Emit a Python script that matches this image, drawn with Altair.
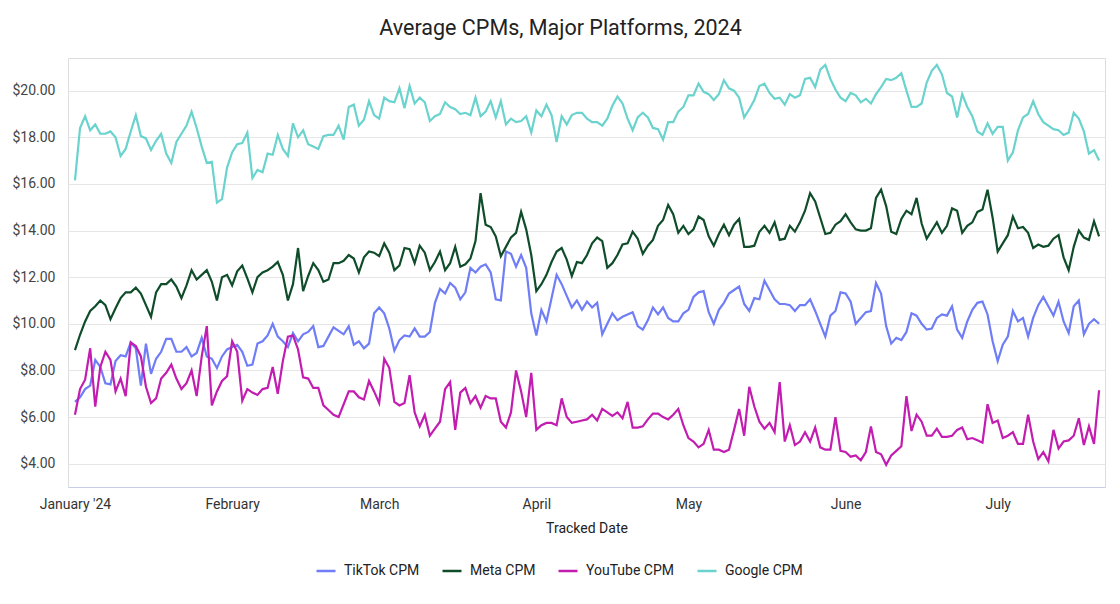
import altair as alt
import pandas as pd

start = "2024-01-01"
n_days = 203
dates = [d.strftime("%Y-%m-%d") for d in pd.date_range(start, periods=n_days, freq="D")]

series_names = ["TikTok CPM", "Meta CPM", "YouTube CPM", "Google CPM"]
series_colors = ["#6f7df7", "#0f4d2a", "#c21cb0", "#6ad3ce"]

tiktok = [
    6.65, 6.85, 7.2, 7.35, 8.45, 8.15, 7.45, 7.4, 8.4, 8.65,
    8.6, 9.2, 8.95, 7.35, 9.15, 7.85, 8.5, 8.8, 9.35, 9.35,
    8.8, 8.8, 9.0, 8.6, 8.75, 9.4, 8.6, 8.5, 8.1, 8.6,
    8.9, 9.0, 9.1, 8.8, 8.2, 8.25, 9.15, 9.25, 9.5, 10.0,
    9.45, 9.25, 9.0, 9.6, 9.25, 9.55, 9.65, 9.9, 9.0, 9.05,
    9.45, 9.85, 9.7, 9.55, 9.9, 9.1, 9.25, 8.95, 9.15, 10.45,
    10.7, 10.45, 9.8, 8.85, 9.3, 9.5, 9.45, 9.8, 9.45, 9.45,
    9.65, 10.9, 11.5, 11.3, 11.75, 11.55, 11.05, 11.35, 12.4, 12.2,
    12.45, 12.55, 12.2, 11.05, 11.0, 13.1, 13.0, 12.45, 12.95, 12.4,
    10.45, 9.5, 10.6, 10.1, 11.1, 12.1, 11.7, 11.2, 10.7, 11.0,
    10.6, 10.95, 10.7, 10.9, 9.55, 10.0, 10.45, 10.15, 10.3, 10.4,
    10.5, 9.9, 9.75, 10.15, 10.7, 10.4, 10.7, 10.25, 10.1, 10.1,
    10.45, 10.6, 11.15, 11.35, 11.4, 10.5, 10.0, 10.6, 10.9, 11.3,
    11.45, 11.6, 10.85, 10.55, 11.1, 11.05, 11.85, 11.45, 11.05, 10.85,
    10.85, 10.8, 10.55, 10.8, 10.8, 11.05, 10.55, 10.0, 9.45, 10.35,
    10.55, 11.35, 11.3, 10.95, 10.0, 10.25, 10.5, 10.55, 11.75, 11.3,
    9.9, 9.15, 9.4, 9.3, 9.65, 10.45, 10.35, 10.0, 9.75, 9.8,
    10.25, 10.4, 10.35, 10.75, 9.75, 9.4, 10.1, 10.6, 10.9, 10.95,
    10.4, 9.25, 8.4, 9.1, 9.45, 10.55, 10.1, 10.25, 9.45, 10.25,
    10.8, 11.15, 10.75, 10.35, 10.95, 10.1, 9.6, 10.75, 11.0, 9.55,
    10.0, 10.2, 10.0,
]

meta = [
    8.87, 9.53, 10.1, 10.55, 10.75, 11.0, 10.8, 10.2, 10.67, 11.1,
    11.35, 11.35, 11.55, 11.3, 10.8, 10.3, 11.35, 11.7, 11.7, 11.9,
    11.6, 11.1, 11.65, 12.3, 11.9, 12.1, 12.3, 11.8, 11.0, 12.0,
    12.1, 11.65, 12.25, 12.5, 11.95, 11.35, 12.0, 12.2, 12.3, 12.45,
    12.65, 12.1, 11.0, 11.7, 13.25, 11.4, 12.05, 12.6, 12.3, 11.8,
    11.9, 12.6, 12.6, 12.7, 12.95, 12.8, 12.2, 12.85, 13.1, 13.05,
    12.9, 13.45, 13.05, 12.3, 12.5, 13.25, 13.2, 12.6, 13.35, 13.05,
    12.3, 12.65, 13.1, 12.3, 12.6, 13.3, 12.45, 12.55, 12.8, 13.55,
    15.6, 14.25, 14.15, 13.75, 12.9, 13.3, 13.7, 13.9, 14.8, 14.05,
    12.95, 11.4, 11.7, 12.1, 12.65, 13.1, 13.25, 12.75, 12.05, 12.65,
    12.6, 12.95, 13.45, 13.7, 13.55, 12.4, 12.6, 12.95, 13.4, 13.45,
    13.95, 13.65, 13.0, 13.35, 13.6, 14.2, 14.45, 15.1, 14.7, 13.9,
    14.2, 13.85, 14.05, 14.6, 14.45, 13.75, 13.35, 13.85, 14.25, 13.8,
    14.25, 14.5, 13.3, 13.3, 13.35, 13.95, 14.2, 13.9, 14.35, 13.6,
    13.65, 14.2, 13.95, 14.35, 14.85, 15.6, 15.25, 14.55, 13.85, 13.9,
    14.25, 14.4, 14.7, 14.35, 14.05, 14.0, 14.0, 14.1, 15.4, 15.75,
    15.05, 13.95, 13.85, 14.5, 14.85, 14.7, 15.4, 14.3, 13.65, 14.0,
    14.35, 13.9, 14.2, 14.95, 14.85, 13.9, 14.2, 14.35, 14.8, 14.9,
    15.75, 14.55, 13.1, 13.45, 13.8, 14.6, 14.1, 14.15, 13.9, 13.25,
    13.4, 13.3, 13.35, 13.65, 13.8, 12.85, 12.3, 13.3, 14.0, 13.7,
    13.6, 14.4, 13.75,
]

youtube = [
    6.1, 7.2, 7.6, 8.95, 6.45, 8.15, 8.8, 8.45, 7.1, 7.65,
    6.9, 9.2, 9.05, 8.6, 7.3, 6.6, 6.8, 7.65, 7.9, 8.25,
    7.65, 7.2, 7.45, 8.0, 6.9, 8.6, 9.9, 6.5, 7.1, 7.55,
    7.75, 9.25, 8.8, 6.7, 7.2, 7.05, 6.95, 7.2, 7.25, 8.15,
    7.0, 8.4, 9.45, 9.5, 8.9, 7.7, 7.65, 7.25, 7.25, 6.5,
    6.3, 6.1, 6.0, 6.55, 7.1, 7.1, 6.85, 6.75, 7.55, 7.1,
    6.6, 8.5, 8.1, 6.65, 6.5, 6.6, 7.8, 6.2, 5.6, 6.1,
    5.2, 5.5, 5.8, 7.2, 7.5, 5.45, 7.05, 7.25, 6.6, 6.9,
    6.4, 6.9, 6.8, 6.8, 5.8, 5.55, 6.2, 8.0, 7.1, 6.0,
    7.9, 5.45, 5.65, 5.75, 5.75, 5.65, 6.8, 6.0, 5.75, 5.8,
    5.85, 5.9, 6.1, 5.85, 6.35, 6.2, 6.05, 6.2, 5.95, 6.65,
    5.55, 5.55, 5.6, 5.9, 6.15, 6.15, 6.0, 5.9, 6.1, 6.35,
    5.65, 5.1, 4.95, 4.7, 4.85, 5.45, 4.6, 4.6, 4.5, 4.6,
    5.45, 6.35, 5.2, 7.3, 6.45, 5.8, 5.5, 5.75, 5.35, 7.5,
    4.95, 5.65, 4.8, 4.95, 5.35, 4.95, 5.55, 4.7, 4.6, 4.6,
    6.0, 4.55, 4.5, 4.3, 4.35, 4.15, 4.5, 5.6, 4.5, 4.4,
    3.95, 4.35, 4.55, 4.75, 6.9, 5.4, 6.1, 5.8, 5.2, 5.2,
    5.5, 5.15, 5.15, 5.2, 5.45, 5.55, 5.05, 5.1, 5.0, 4.9,
    6.55, 5.75, 5.85, 5.1, 5.2, 5.35, 4.85, 4.85, 6.1, 4.95,
    4.2, 4.5, 4.1, 5.45, 4.65, 4.95, 5.0, 5.2, 5.95, 4.8,
    5.6, 4.85, 7.15,
]

google = [
    16.15, 18.4, 18.9, 18.3, 18.55, 18.15, 18.15, 18.25, 18.0, 17.2,
    17.5, 18.25, 18.95, 18.05, 17.95, 17.45, 17.85, 18.15, 17.3, 16.9,
    17.8, 18.15, 18.5, 19.1, 18.4, 17.6, 16.9, 16.95, 15.2, 15.35,
    16.7, 17.35, 17.7, 17.75, 18.2, 16.25, 16.6, 16.5, 17.3, 17.25,
    18.1, 17.5, 17.2, 18.6, 18.0, 18.3, 17.7, 17.6, 17.5, 18.05,
    18.1, 18.1, 18.5, 17.9, 19.3, 19.4, 18.5, 18.75, 19.55, 18.95,
    18.8, 19.7, 19.55, 19.5, 20.1, 19.25, 20.2, 19.45, 19.7, 19.5,
    18.7, 18.9, 19.0, 19.5, 19.3, 19.2, 19.0, 19.05, 18.95, 19.7,
    18.9, 19.1, 19.55, 18.85, 19.55, 18.55, 18.8, 18.65, 18.7, 18.9,
    18.2, 19.15, 18.9, 19.4, 18.95, 17.8, 18.9, 18.55, 18.95, 19.05,
    19.05, 18.8, 18.65, 18.65, 18.5, 18.8, 19.35, 19.75, 19.45, 18.8,
    18.3, 18.85, 19.05, 18.85, 18.4, 18.35, 17.9, 18.65, 18.65, 19.1,
    19.3, 19.8, 19.8, 20.3, 19.95, 19.85, 19.6, 19.85, 20.45, 20.1,
    20.0, 19.7, 18.85, 19.2, 19.6, 20.2, 20.3, 19.9, 19.65, 19.7,
    19.4, 19.85, 19.7, 19.8, 20.5, 20.55, 20.15, 20.9, 21.1, 20.5,
    20.05, 19.7, 19.55, 19.9, 19.8, 19.5, 19.65, 19.45, 19.85, 20.15,
    20.5, 20.45, 20.55, 20.75, 20.0, 19.3, 19.3, 19.45, 20.35, 20.85,
    21.1, 20.7, 19.9, 19.75, 18.85, 19.85, 19.3, 18.9, 18.25, 18.1,
    18.6, 18.15, 18.45, 18.45, 17.0, 17.35, 18.3, 18.85, 19.0, 19.55,
    19.0, 18.65, 18.5, 18.35, 18.3, 18.1, 18.2, 19.05, 18.8, 18.25,
    17.3, 17.45, 17.0,
]

y_ticks = [4, 6, 8, 10, 12, 14, 16, 18, 20]
month_ticks = [alt.DateTime(year=2024, month=m, date=1, utc=True) for m in range(1, 8)]

values_by_series = [tiktok, meta, youtube, google]
rows = []
for name, vals in zip(series_names, values_by_series):
    for d, v in zip(dates, vals):
        rows.append({"date": d, "series": name, "value": v})
df = pd.DataFrame(rows)

FONT = "Roboto"

chart = (
    alt.Chart(df)
    .mark_line(strokeWidth=2.2, interpolate="linear")
    .encode(
        x=alt.X(
            "date:T",
            scale=alt.Scale(
                type="utc",
                domain=[
                    alt.DateTime(year=2023, month=12, date=30, hours=15, utc=True),
                    alt.DateTime(year=2024, month=7, date=22, hours=4, utc=True),
                ],
            ),
            axis=alt.Axis(
                values=month_ticks,
                labelExpr="utcmonth(datum.value) == 0 ? \"January '24\" : utcFormat(datum.value, '%B')",
                title="Tracked Date",
                grid=False,
                ticks=False,
                domain=True,
                domainColor="#c9cee8",
                domainWidth=1,
                labelFontSize=14,
                labelColor="#333333",
                labelFont=FONT,
                labelPadding=10,
                labelFlush=False,
                labelOverlap=False,
                titleFont=FONT,
                titleFontSize=14,
                titleFontWeight="normal",
                titleColor="#222222",
                titlePadding=10,
            ),
        ),
        y=alt.Y(
            "value:Q",
            scale=alt.Scale(domain=[3, 21.4], nice=False, zero=False),
            axis=alt.Axis(
                values=y_ticks,
                format="$.2f",
                title=None,
                grid=True,
                gridColor="#e6e6e6",
                gridWidth=1,
                domain=False,
                ticks=False,
                labelFontSize=14,
                labelColor="#444444",
                labelFont=FONT,
                labelPadding=13,
            ),
        ),
        color=alt.Color(
            "series:N",
            scale=alt.Scale(domain=series_names, range=series_colors),
            legend=alt.Legend(
                orient="none",
                legendX=247,
                legendY=502,
                direction="horizontal",
                columns=4,
                gridAlign="none",
                columnPadding=17,
                title=None,
                symbolType="stroke",
                symbolStrokeWidth=2.5,
                symbolSize=361,
                labelFontSize=14,
                labelFont=FONT,
                labelColor="#222222",
                labelOffset=7,
            ),
        ),
    )
    .properties(
        width=1037,
        height=429,
        title=alt.TitleParams(
            "Average CPMs, Major Platforms, 2024",
            font=FONT,
            fontSize=21.5,
            fontWeight="normal",
            color="#222222",
            anchor="middle",
            offset=19,
            dx=-26,
        ),
        autosize=alt.AutoSizeParams(type="none"),
        padding={"left": 60, "top": 50, "right": 7, "bottom": 109},
    )
    .configure_view(strokeWidth=0, stroke="transparent")
    .configure(background="white")
)

chart.save("out.html", embed_options={"renderer": "svg", "actions": False})
